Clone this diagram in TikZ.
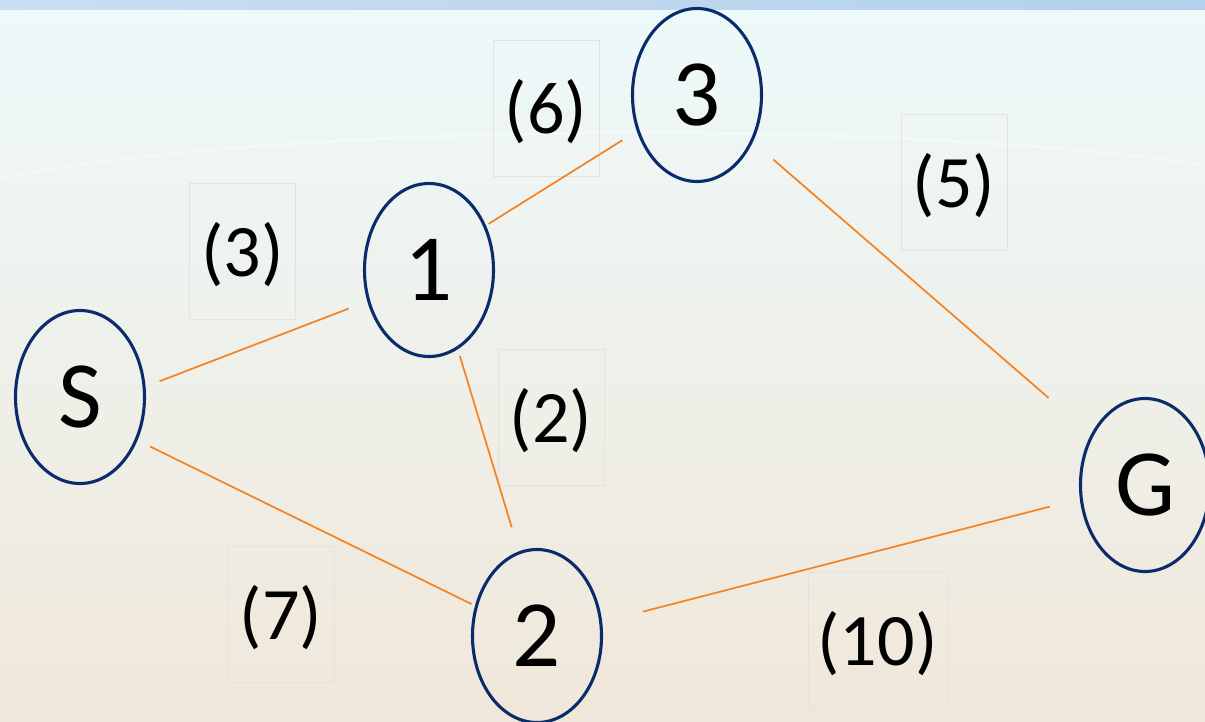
\documentclass[tikz,border=0pt]{standalone}
\usepackage{fontspec}
\setmainfont{Carlito}
\usetikzlibrary{shapes.geometric}
\definecolor{navy}{HTML}{0A2C6B}
\definecolor{edgeorange}{HTML}{F7811F}
\definecolor{boxgray}{HTML}{E2E2E2}
\definecolor{bartopl}{HTML}{CADDF2}
\definecolor{bartopr}{HTML}{B3D1EC}
\definecolor{bgtop}{HTML}{EDF9FA}
\definecolor{bgmid}{HTML}{F5F8F4}
\definecolor{bgbot}{HTML}{F0E7DA}
\begin{document}
\begin{tikzpicture}[x=1pt,y=-1pt,
  vert/.style={ellipse, draw=navy, line width=3.1pt, minimum width=129pt, minimum height=173pt, inner sep=0pt, font=\fontsize{95}{95}\selectfont},
  lbox/.style={draw=boxgray, line width=1pt, minimum width=106pt, minimum height=136pt, inner sep=0pt, text height=62pt, text depth=12pt, font=\fontsize{74}{74}\selectfont},
  wbox/.style={lbox, minimum width=139pt},
  edge/.style={draw=edgeorange, line width=1.7pt}]
\useasboundingbox (0,0) rectangle (1205,721);
\clip (0,0) rectangle (1205,721);
% background
\shade[top color=bgtop, middle color=bgmid, bottom color=bgbot] (0,9) rectangle (1205,721);
\draw[white, line width=3pt, opacity=0.35] (0,178) .. controls (300,120) and (900,120) .. (1205,165);
\shade[left color=bartopl, right color=bartopr] (0,0) rectangle (1205,9);
% label boxes
\node[lbox] (l3) at (242.5,251) {(3)};
\node[lbox] (l6) at (546,108) {(6)};
\node[lbox] (l5) at (954,182) {(5)};
\node[lbox] (l2) at (551,417) {(2)};
\node[lbox] (l7) at (281,614) {(7)};
\node[wbox] (l10) at (877.5,640) {(10)};
% vertices
\node[vert] (S) at (80,397) {S};
\node[vert] (n1) at (429,270) {1};
\node[vert] (n3) at (697,95) {3};
\node[vert] (n2) at (537,636) {2};
\node[vert] (G) at (1145,485) {G};
% edges
\draw[edge, shorten <=15pt, shorten >=20pt] (S.9) -- (n1.207);
\draw[edge, shorten <=14pt, shorten >=4pt] (S.-37) -- (n2.154);
\draw[edge, shorten <=3pt, shorten >=17pt] (n1.38) -- (n3.211);
\draw[edge, shorten <=7pt, shorten >=25pt] (n1.-70) -- (n2.102);
\draw[edge, shorten <=27pt, shorten >=56pt] (n3.-40.5) -- (G.137);
\draw[edge, shorten <=42pt, shorten >=31pt] (n2.12) -- (G.192.5);
\end{tikzpicture}
\end{document}
